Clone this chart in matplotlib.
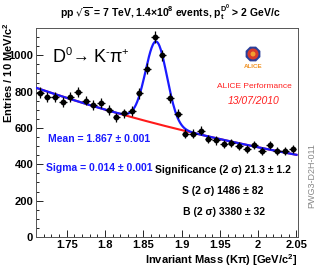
#!/usr/bin/env python3
"""D0 -> K pi invariant mass plot, ALICE performance style."""

import numpy as np
import matplotlib

matplotlib.use("Agg")
import matplotlib.pyplot as plt
from matplotlib.patches import RegularPolygon, Circle

plt.rcParams["font.family"] = ["Liberation Sans", "DejaVu Sans"]

# bin centres (10 MeV bins) and entries
mass = [1.715 + 0.01 * i for i in range(34)]
entries = [795, 770, 768, 741, 768, 796, 751, 727, 736, 700,
           658, 680, 694, 790, 926, 1099, 1000, 766, 679, 569,
           569, 586, 540, 531, 512, 516, 503, 484, 505, 473,
           504, 473, 475, 484]

# fit parameters (gaussian + exponential background)
fit_mean = 1.867
fit_sigma = 0.014
fit_height = 452
bg_norm = 814
bg_x0 = 1.715
bg_slope = 1.755

x_ticks = [1.75, 1.8, 1.85, 1.9, 1.95, 2.0, 2.05]
x_tick_labels = ["1.75", "1.8", "1.85", "1.9", "1.95", "2", "2.05"]
y_ticks = [0, 200, 400, 600, 800, 1000]


def background(x):
    return bg_norm * np.exp(-bg_slope * (x - bg_x0))


def total(x):
    return background(x) + fit_height * np.exp(-0.5 * ((x - fit_mean) / fit_sigma) ** 2)


W, H = 332, 273
fig = plt.figure(figsize=(W / 100, H / 100), dpi=100)
ax = fig.add_axes([36 / W, 1 - 237 / H, 262 / W, 209 / H])

xs = np.linspace(1.71, 2.05, 400)
ax.plot(xs, background(xs), color="#ff1a1a", lw=1.5, zorder=2)
ax.plot(xs, total(xs), color="#1a1aff", lw=1.6, zorder=3)

errs = np.sqrt(np.array(entries))
ax.errorbar(mass, entries, yerr=errs, xerr=0.005, fmt="o", color="black",
            ms=3.2, elinewidth=0.9, capsize=0, zorder=4)

ax.set_xlim(1.71, 2.052)
ax.set_ylim(0, 1150)
ax.set_xticks(x_ticks)
ax.set_xticklabels(x_tick_labels)
ax.set_xticks(np.arange(1.72, 2.051, 0.01), minor=True)
ax.set_yticks(y_ticks)
ax.set_yticks(np.arange(0, 1150, 50), minor=True)
ax.tick_params(which="both", direction="in", top=False, right=False,
               labelsize=8, pad=2, width=0.6)
ax.tick_params(which="major", length=5)
ax.tick_params(which="minor", length=2.5)
for lab in ax.get_xticklabels() + ax.get_yticklabels():
    lab.set_fontweight("bold")
for sp in ax.spines.values():
    sp.set_linewidth(0.7)
    sp.set_color("#555555")

# axis titles (ROOT style, aligned to the ends)
fig.text(297 / W, 1 - 260 / H, r"Invariant Mass (Kπ) [GeV/c$\mathregular{^2}$]",
         ha="right", va="center", fontsize=8, fontweight="bold")
fig.text(8 / W, 1 - 22 / H, r"Entries / 10 MeV/c$\mathregular{^2}$",
         ha="center", va="top", rotation=90, fontsize=8, fontweight="bold")

fig.text(170 / W, 1 - 13 / H,
         r"pp $\mathregular{\sqrt{s}}$ = 7 TeV, 1.4×10$\mathregular{^8}$ events, "
         r"p$\mathregular{_t^{D^0}}$ > 2 GeV/c",
         ha="center", va="center", fontsize=7.5, fontweight="bold")

# decay channel, built from pieces so the spacing stays tight
decay_y = 1 - 62 / H
t = fig.text(53 / W, decay_y, "D", ha="left", va="baseline", fontsize=13)
fig.canvas.draw()
r = fig.canvas.get_renderer()
x_px = t.get_window_extent(r).x1
for piece, size, dy in [("0", 8, 7), ("→", 12, 0), (" K", 13, 0), ("-", 8, 7),
                        ("π", 13, 0), ("+", 8, 7)]:
    tt = fig.text(x_px / W, decay_y + dy / H, piece, ha="left", va="baseline", fontsize=size)
    x_px = tt.get_window_extent(r).x1

fig.text(48 / W, 1 - 139 / H, "Mean = 1.867 ± 0.001", ha="left", va="center",
         fontsize=7.5, fontweight="bold", color="#1a1aff")
fig.text(46 / W, 1 - 168 / H, "Sigma = 0.014 ± 0.001", ha="left", va="center",
         fontsize=7.5, fontweight="bold", color="#1a1aff")
fig.text(155 / W, 1 - 170 / H, "Significance (2 σ) 21.3 ± 1.2", ha="left", va="center",
         fontsize=7.5, fontweight="bold")
fig.text(182 / W, 1 - 191 / H, "S (2 σ) 1486 ± 82", ha="left", va="center",
         fontsize=7.5, fontweight="bold")
fig.text(183 / W, 1 - 212 / H, "B (2 σ) 3380 ± 32", ha="left", va="center",
         fontsize=7.5, fontweight="bold")

fig.text(254 / W, 1 - 86 / H, "ALICE Performance", ha="center", va="center",
         fontsize=6, color="#ff2020")
fig.text(254 / W, 1 - 101 / H, "13/07/2010", ha="center", va="center",
         fontsize=7.5, color="#ff2020", style="italic")

# small ALICE logo
cx, cy = 253, H - 54
fig.patches.append(RegularPolygon((cx, cy), 8, radius=8, orientation=np.pi / 8,
                                  facecolor="#2a3f9a", edgecolor="none",
                                  transform=None, figure=fig))
fig.patches.append(Circle((cx, cy), 5.5, facecolor="#d83a2a", edgecolor="none",
                          transform=None, figure=fig))
fig.patches.append(Circle((cx, cy), 2.5, facecolor="#f0a030", edgecolor="none",
                          transform=None, figure=fig))
fig.text(253 / W, 1 - 66 / H, "ALICE", ha="center", va="center",
         fontsize=4.5, fontweight="bold", color="#f09020")

fig.text(312 / W, 1 - 176 / H, "PWG3-D2H-011", ha="center", va="center",
         rotation=90, fontsize=6.5, color="#888888")

fig.savefig("out.png", dpi=100)
